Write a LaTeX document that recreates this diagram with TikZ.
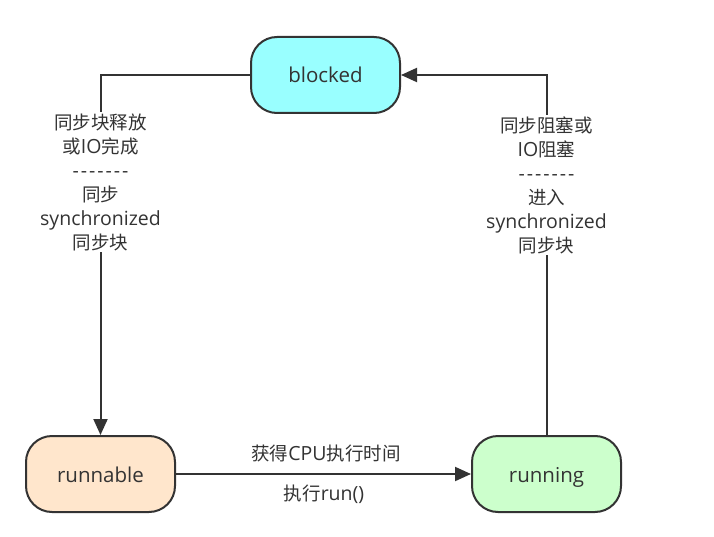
\documentclass[tikz,border=0pt]{standalone}
\usepackage{fontspec}
\setmainfont{Open Sans}
\newfontfamily\cjk{Noto Sans CJK SC}
\usetikzlibrary{arrows.meta}
\newcommand\zh[1]{{\cjk\fontsize{18.5}{24}\selectfont #1}}
\newcommand\dashline{-\kern2pt-\kern2pt-\kern2pt-\kern2pt-\kern2pt-\kern2pt-}
\definecolor{linec}{HTML}{333333}
\definecolor{textc}{HTML}{333333}
\definecolor{blockedc}{HTML}{99FFFF}
\definecolor{runnablec}{HTML}{FFE6CC}
\definecolor{runningc}{HTML}{CCFFCC}
\begin{document}
\begin{tikzpicture}[x=1pt,y=-1pt,
  state/.style={draw=linec, line width=2pt, rounded corners=26pt,
    minimum width=149pt, minimum height=76pt, inner sep=0pt, text=textc,
    text height=16pt, text depth=0pt,
    font=\fontsize{20.5}{22}\selectfont},
  conn/.style={draw=linec, line width=2pt, -{Triangle[length=16pt,width=14pt]}},
  lbl/.style={fill=white, text=textc, align=center, inner sep=1pt,
    font=\fontsize{19.5}{24}\selectfont},
  elbl/.style={text=textc, inner sep=1pt, font=\fontsize{19.5}{22}\selectfont}]
\useasboundingbox[fill=white] (0,0) rectangle (714,537);

\node[state, fill=blockedc] (blocked) at (325.5,75) {blocked};
\node[state, fill=runnablec] (runnable) at (100.5,474) {runnable};
\node[state, fill=runningc] (running) at (546.5,474) {running};

\draw[conn] (blocked.west) -| (runnable.north);
\draw[conn] (running.north) |- (blocked.east);
\draw[conn] (runnable.east) -- (running.west);

\node[lbl] (leftlbl) at (100.5,182) {\zh{同步块释放}\\\zh{或}IO\zh{完成}\\\dashline\\\zh{同步}\\synchronized\\\zh{同步块}};
\node[lbl] (rightlbl) at (546.5,185) {\zh{同步阻塞或}\\IO\zh{阻塞}\\\dashline\\\zh{进入}\\synchronized\\\zh{同步块}};

\node[elbl] (cpu) at (326,453) {\zh{获得}CPU\zh{执行时间}};
\node[elbl] (run) at (324,494) {\zh{执行}run()};
\end{tikzpicture}
\end{document}
